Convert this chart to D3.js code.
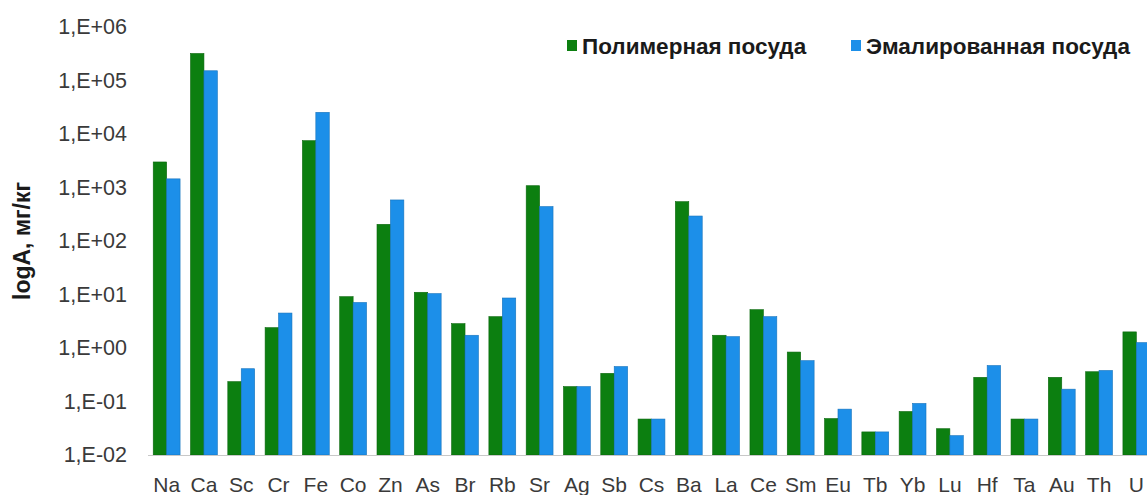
<!DOCTYPE html>
<html>
<head>
<meta charset="utf-8">
<script src="https://cdn.jsdelivr.net/npm/d3@7"></script>
<style>
    body { margin: 0; background: #fff; }
    svg { display: block; font-family: "Liberation Sans", Arial, sans-serif; }
</style>
</head>
<body>
<div id="chart"></div>
<script>
(function () {
    "use strict";

    const elements = ["Na", "Ca", "Sc", "Cr", "Fe", "Co", "Zn", "As", "Br", "Rb", "Sr", "Ag", "Sb", "Cs",
        "Ba", "La", "Ce", "Sm", "Eu", "Tb", "Yb", "Lu", "Hf", "Ta", "Au", "Th", "U"];

    const polymer = [3000, 320000, 0.235, 2.4, 7500, 9.1, 205, 11, 2.85, 3.85, 1080, 0.19, 0.336, 0.047,
        543, 1.73, 5.2, 0.84, 0.048, 0.027, 0.065, 0.031, 0.283, 0.047, 0.283, 0.36, 2.0];

    const enamel = [1450, 152000, 0.41, 4.5, 25400, 7.1, 585, 10.4, 1.73, 8.6, 440, 0.19, 0.45, 0.047,
        293, 1.63, 3.85, 0.58, 0.072, 0.027, 0.092, 0.023, 0.47, 0.047, 0.17, 0.38, 1.26];

    const seriesNames = ["Полимерная посуда", "Эмалированная посуда"];
    const seriesColors = ["#0c7f10", "#1c8fe9"];
    const tickValues = [1e-2, 1e-1, 1e0, 1e1, 1e2, 1e3, 1e4, 1e5, 1e6];

    const width = 1147;
    const height = 495;
    const left = 148;
    const baseY = 455;
    const topY = 27;

    const svg = d3.select("#chart").append("svg")
        .attr("width", width)
        .attr("height", height);

    const xScale = d3.scaleBand()
        .domain(elements)
        .range([left, 1155])
        .paddingInner(0.28)
        .paddingOuter(0.14);

    const sub = d3.scaleBand()
        .domain([0, 1])
        .range([0, xScale.bandwidth()]);

    const yScale = d3.scaleLog()
        .domain([1e-2, 1e6])
        .range([baseY, topY]);

    function sciLabel(v) {
        const e = Math.round(Math.log10(v));
        return "1,E" + (e < 0 ? "-" : "+") + String(Math.abs(e)).padStart(2, "0");
    }

    const yAxis = svg.append("g")
        .attr("transform", "translate(" + left + ",0)")
        .call(d3.axisLeft(yScale).tickValues(tickValues).tickFormat(sciLabel).tickSize(0).tickPadding(21));
    yAxis.select(".domain").remove();
    yAxis.selectAll("text")
        .attr("font-size", 21.5)
        .attr("fill", "#3a3a3a")
        .attr("font-family", "Liberation Sans, Arial, sans-serif");

    const rows = elements.map((el, i) => ({ el: el, vals: [polymer[i], enamel[i]] }));

    const groups = svg.append("g").selectAll("g")
        .data(rows)
        .join("g")
        .attr("transform", d => "translate(" + xScale(d.el) + ",0)");

    groups.selectAll("rect")
        .data(d => d.vals)
        .join("rect")
        .attr("x", (d, i) => sub(i))
        .attr("width", sub.bandwidth())
        .attr("y", d => yScale(d))
        .attr("height", d => baseY - yScale(d))
        .attr("fill", (d, i) => seriesColors[i])
        .attr("stroke", (d, i) => d3.color(seriesColors[i]).darker(0.6))
        .attr("stroke-width", 0.6);

    // baseline
    svg.append("line")
        .attr("x1", left)
        .attr("x2", width)
        .attr("y1", baseY + 0.5)
        .attr("y2", baseY + 0.5)
        .attr("stroke", "#c8c8c8");

    const xAxis = svg.append("g")
        .attr("transform", "translate(0," + baseY + ")")
        .call(d3.axisBottom(xScale).tickSize(0).tickPadding(22));
    xAxis.select(".domain").remove();
    xAxis.selectAll("text")
        .attr("font-size", 21)
        .attr("fill", "#3a3a3a")
        .attr("font-family", "Liberation Sans, Arial, sans-serif");

    svg.append("text")
        .attr("transform", "translate(30,241) rotate(-90)")
        .attr("text-anchor", "middle")
        .attr("font-size", 23)
        .attr("font-weight", "bold")
        .attr("fill", "#1a1a1a")
        .text("logA, мг/кг");

    // legend
    const legendX = [567, 851];
    const legend = svg.append("g").selectAll("g")
        .data(seriesNames)
        .join("g")
        .attr("transform", (d, i) => "translate(" + legendX[i] + ",40)");

    legend.append("rect")
        .attr("width", 10)
        .attr("height", 11)
        .attr("fill", (d, i) => seriesColors[i]);

    legend.append("text")
        .attr("x", 15)
        .attr("y", 14)
        .attr("font-size", 22.5)
        .attr("font-weight", "bold")
        .attr("fill", "#1a1a1a")
        .text(d => d);
}());
</script>
</body>
</html>
